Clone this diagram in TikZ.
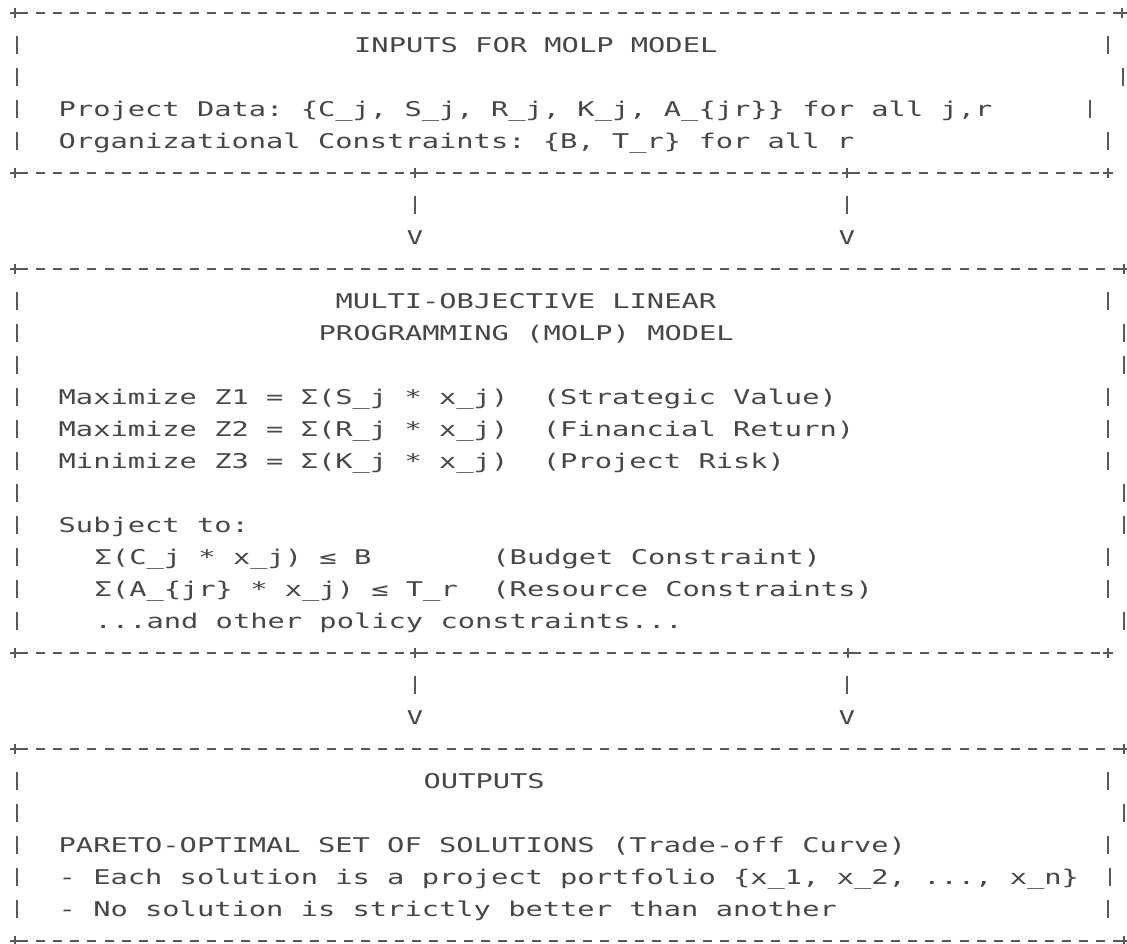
\documentclass[tikz,border=0pt]{standalone}
\usepackage{fontspec}
\newfontfamily\asciifont[FakeStretch=1.415]{DejaVu Sans Mono}
\definecolor{ink}{HTML}{474747}
\definecolor{rulecol}{HTML}{595959}
\tikzset{
  txt/.style={anchor=base west, inner sep=0pt, text=ink,
    font=\asciifont\fontsize{20.3}{24}\selectfont\frenchspacing},
  vhead/.style={anchor=base, inner sep=0pt, text=ink,
    font=\asciifont\fontsize{19}{24}\selectfont},
  bar/.style={draw=rulecol, line width=1.8pt},
  border/.style={draw=rulecol, line width=1.5pt, dash pattern=on 9pt off 8.1pt, dash phase=13.1pt},
  plusmark/.style={draw=rulecol, line width=1.4pt}
}
\newcommand\plusat[2]{\draw[plusmark] (#1-5,#2) -- (#1+5,#2) (#1,#2-5) -- (#1,#2+5);}
\begin{document}
\begin{tikzpicture}[x=1pt,y=-1pt]
\fill[white] (0,0) rectangle (1127,944);
\useasboundingbox (0,0) rectangle (1127,944);

% ---------- borders ----------
% box 1
\draw[border] (15,13) -- (1122,13);
\plusat{15}{13}\plusat{1122}{13}
\draw[border] (15,173) -- (415,173);
\draw[border] (415,173) -- (847,173);
\draw[border] (847,173) -- (1108,173);
\plusat{15}{173}\plusat{415}{173}\plusat{847}{173}\plusat{1108}{173}
% box 2
\draw[border] (15,269) -- (1124,269);
\plusat{15}{269}\plusat{1124}{269}
\draw[border] (15,653) -- (415,653);
\draw[border] (415,653) -- (848,653);
\draw[border] (848,653) -- (1108,653);
\plusat{15}{653}\plusat{415}{653}\plusat{848}{653}\plusat{1108}{653}
% box 3
\draw[border] (15,749) -- (1124,749);
\plusat{15}{749}\plusat{1124}{749}
\draw[border] (15,941) -- (1127,941);
\plusat{15}{941}\plusat{1124}{941}

% ---------- side bars ----------
\foreach \y in {45,77,109,141,301,333,365,397,429,461,493,525,557,589,621,781,813,845,877,909}
  {\draw[bar] (17,\y-9) -- (17,\y+9);}
\foreach \y/\x in {45/1108,77/1123,109/1090,141/1108,
  301/1108,333/1124,365/1124,397/1108,429/1108,461/1108,493/1124,525/1124,557/1108,589/1108,621/1124,
  781/1108,813/1124,845/1108,877/1110,909/1108}
  {\draw[bar] (\x,\y-9) -- (\x,\y+9);}

% ---------- arrows (| and V) ----------
\foreach \x in {415,847}{
  \draw[bar] (\x,205-9) -- (\x,205+9);
  \draw[bar] (\x,685-9) -- (\x,685+9);
}
\node[vhead] (v1) at (415,244) {V};
\node[vhead] (v2) at (847,244) {V};
\node[vhead] (v3) at (415,724) {V};
\node[vhead] (v4) at (847,724) {V};

% ---------- box 1 text ----------
\node[txt] (inTitle) at (354,52.5) {INPUTS FOR MOLP MODEL};
\node[txt] (inData) at (58.5,116.5) {Project Data: \{C\_j, S\_j, R\_j, K\_j, A\_\{jr\}\} for all j,r};
\node[txt] (inOrg) at (58.5,148.5) {Organizational Constraints: \{B, T\_r\} for all r};

% ---------- box 2 text ----------
\node[txt] (mTitleA) at (335.5,308.5) {MULTI-OBJECTIVE LINEAR};
\node[txt] (mTitleB) at (318.5,340.5) {PROGRAMMING (MOLP) MODEL};
\node[txt] (zOne) at (58.5,404.5) {Maximize Z1 = Σ(S\_j * x\_j)~~(Strategic Value)};
\node[txt] (zTwo) at (58.5,436.5) {Maximize Z2 = Σ(R\_j * x\_j)~~(Financial Return)};
\node[txt] (zThree) at (58.5,468.5) {Minimize Z3 = Σ(K\_j * x\_j)~~(Project Risk)};
\node[txt] (subj) at (58.5,532.5) {Subject to:};
\node[txt] (cBudget) at (94.5,564.5) {Σ(C\_j * x\_j) ≤ B~~~~~~~(Budget Constraint)};
\node[txt] (cRes) at (94.5,596.5) {Σ(A\_\{jr\} * x\_j) ≤ T\_r~~(Resource Constraints)};
\node[txt] (cOther) at (94.5,628.5) {...and other policy constraints...};

% ---------- box 3 text ----------
\node[txt] (outTitle) at (423.5,788.5) {OUTPUTS};
\node[txt] (outPareto) at (58.5,852.5) {PARETO-OPTIMAL SET OF SOLUTIONS (Trade-off Curve)};
\node[txt] (outEach) at (58.5,884.5) {- Each solution is a project portfolio \{x\_1, x\_2, ..., x\_n\}};
\node[txt] (outNo) at (58.5,916.5) {- No solution is strictly better than another};
\end{tikzpicture}
\end{document}
